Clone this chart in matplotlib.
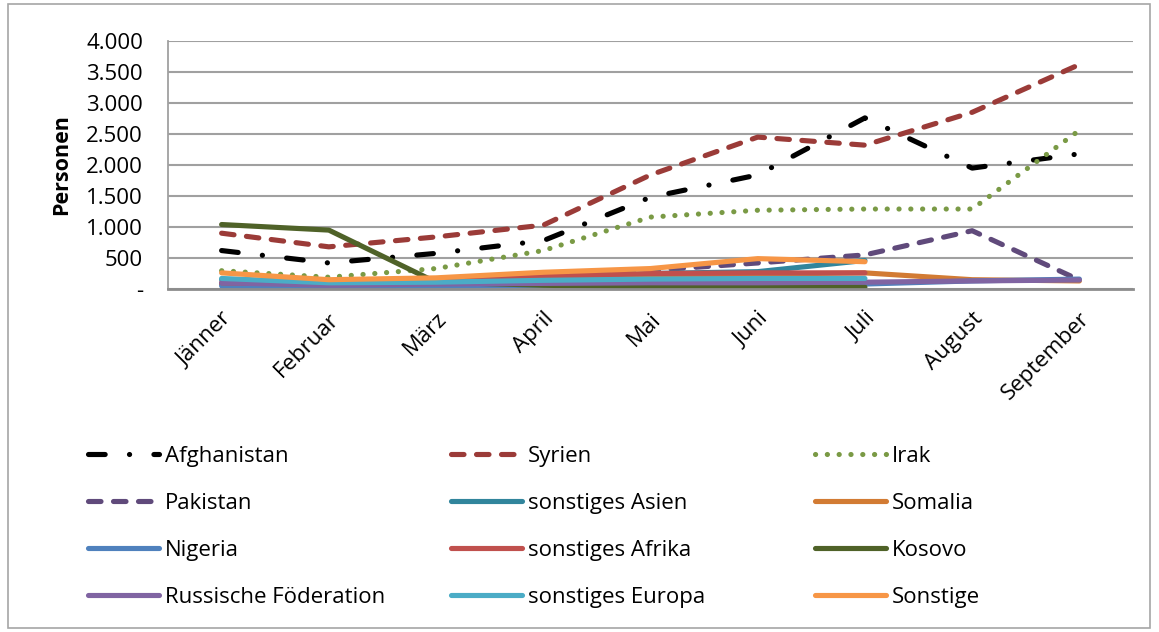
import matplotlib
matplotlib.use("Agg")
import matplotlib.pyplot as plt
from matplotlib.patches import Rectangle
from matplotlib.ticker import FuncFormatter, MultipleLocator
import numpy as np

plt.rcParams['font.family'] = ['Open Sans', 'DejaVu Sans']
plt.rcParams['lines.scale_dashes'] = False

months = ["Jänner", "Februar", "März", "April", "Mai", "Juni", "Juli", "August", "September"]

afghanistan = [620, 420, 575, 780, 1480, 1840, 2760, 1950, 2180]
syrien = [900, 680, 840, 1030, 1840, 2450, 2320, 2850, 3620]
irak = [295, 190, 330, 620, 1160, 1270, 1290, 1290, 2560]
pakistan = [80, 30, 100, 200, 300, 420, 550, 940, 145]
sonst_asien = [150, 80, 100, 180, 250, 280, 460]
somalia = [80, 60, 100, 150, 200, 240, 260, 150, 130]
nigeria = [50, 30, 50, 60, 70, 80, 80, 130, 160]
sonst_afrika = [100, 80, 120, 200, 250, 260, 260]
kosovo = [1040, 950, 110, 60, 35, 30, 30]
russland = [100, 60, 80, 90, 100, 100, 110, 130, 145]
sonst_europa = [170, 100, 110, 140, 160, 170, 170]
sonstige = [260, 150, 180, 270, 330, 490, 440]

series = [
    ("Afghanistan", afghanistan, "#000000", (0, (12.0, 17.5, 0.1, 17.5))),
    ("Syrien", syrien, "#9B3B38", (0, (9.0, 9.0))),
    ("Irak", irak, "#7A9A45", (0, (0.1, 8.4))),
    ("Pakistan", pakistan, "#604A7B", (0, (9.0, 9.0))),
    ("sonstiges Asien", sonst_asien, "#31859C", "-"),
    ("Somalia", somalia, "#D27B33", "-"),
    ("Nigeria", nigeria, "#4F81BD", "-"),
    ("sonstiges Afrika", sonst_afrika, "#C0504D", "-"),
    ("Kosovo", kosovo, "#4F6228", "-"),
    ("Russische Föderation", russland, "#8064A2", "-"),
    ("sonstiges Europa", sonst_europa, "#4BACC6", "-"),
    ("Sonstige", sonstige, "#F79646", "-"),
]

fig = plt.figure(figsize=(11.59, 6.32), dpi=100)
ax = fig.add_axes([168/1159, 1 - 289/632, (1133-168)/1159, (289-41)/632])

x = np.arange(len(months))
handles = []
for name, vals, col, ls in series:
    n = len(vals)
    ln, = ax.plot(x[:n], vals, color=col, lw=3.7, linestyle=ls, label=name,
                  solid_capstyle='round', dash_capstyle='round', solid_joinstyle='round')
    handles.append(ln)

ax.set_xlim(-0.5, len(months) - 0.5)
ax.set_ylim(0, 4000)
ax.yaxis.set_major_locator(MultipleLocator(500))
ax.yaxis.set_major_formatter(FuncFormatter(lambda v, p: "-" if v == 0 else f"{int(v):,}".replace(",", ".")))
ax.grid(axis='y', color='#A0A0A0', lw=1.5)
ax.set_axisbelow(True)
for s in ['top', 'right']:
    ax.spines[s].set_visible(False)
ax.spines['left'].set_color('#A0A0A0')
ax.spines['left'].set_linewidth(1.3)
ax.spines['bottom'].set_color('#8C8C8C')
ax.spines['bottom'].set_linewidth(2)
ax.tick_params(axis='both', length=0, labelsize=16, colors='#000000')
ax.tick_params(axis='y', pad=18)
ax.set_xticks(x)
ax.set_xticklabels(months, rotation=45, ha='right', rotation_mode='anchor')
ax.tick_params(axis='x', pad=14)
ax.set_ylabel("Personen", fontsize=15.5, fontweight='bold', labelpad=10)

# legends: three columns placed manually
col_x = [88/1159, 451/1159, 815/1159]
for i in range(3):
    hs = handles[i::3]
    fig.legend(handles=hs, labels=[h.get_label() for h in hs], loc='upper left',
               bbox_to_anchor=(col_x[i], 1 - 446/632), frameon=False, fontsize=16,
               handlelength=3.2, handletextpad=0.25, labelspacing=1.17, borderaxespad=0,
               borderpad=0)

fig.add_artist(Rectangle((8/1159, 4/632), (1150-8)/1159, (628-4)/632, transform=fig.transFigure,
                         fill=False, edgecolor='#A6A6A6', lw=1.2))

fig.savefig("out.png", dpi=100)
